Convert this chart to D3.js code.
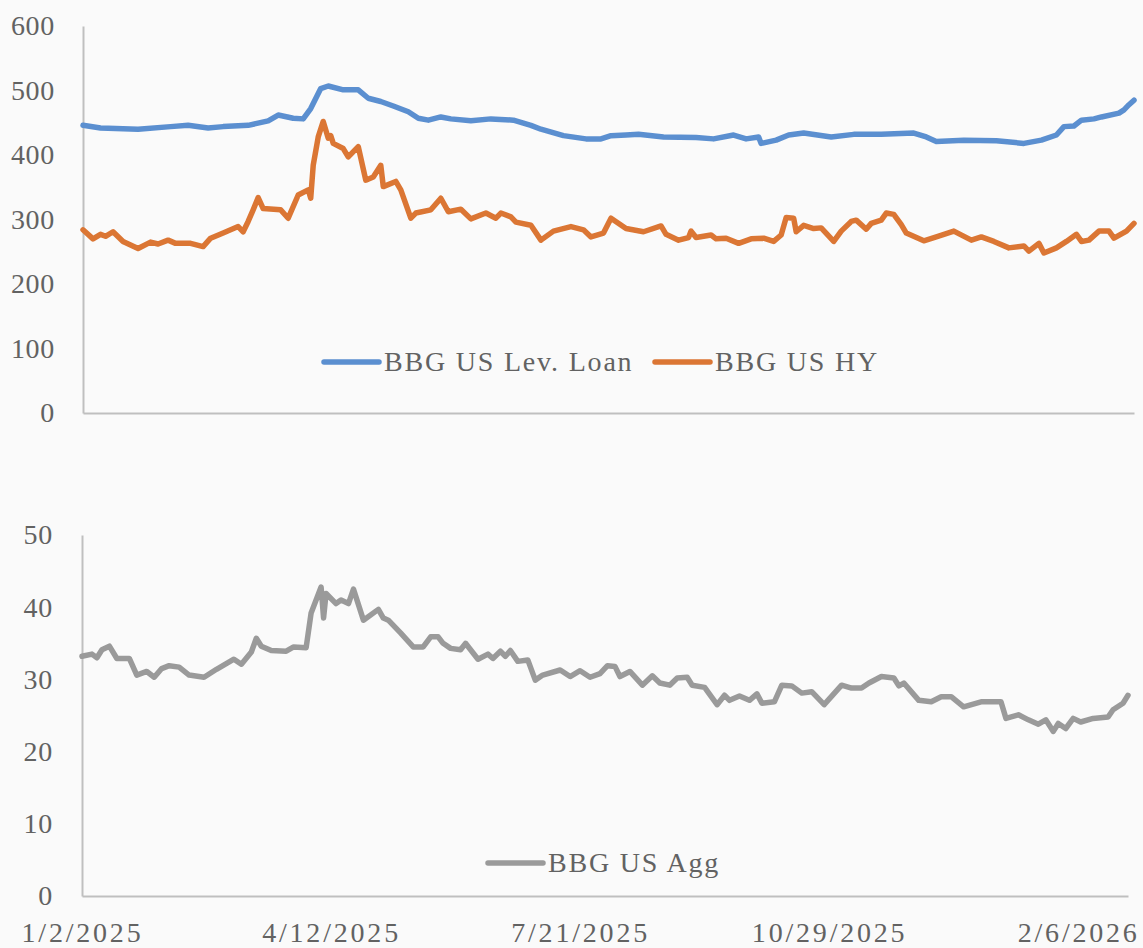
<!DOCTYPE html>
<html>
<head>
<meta charset="utf-8">
<script src="https://cdn.jsdelivr.net/npm/d3@7"></script>
<style>
  body { margin: 0; background: #fafafa; }
  svg text { font-family: "Liberation Serif", "DejaVu Serif", serif; }
</style>
</head>
<body>
<div id="chart"></div>
<script>
// days since 1/2/2025
const loanDays = [0,7,22,35,42,50,56,66,74,78,84,88,91,95,98,104,110,114,119,124,130,134,138,143,147,155,163,172,179,183,192,201,207,211,217,222,232,245,252,260,265,270,271,277,282,288,299,308,319,332,337,341,352,365,376,383,389,392,396,399,404,407,414,416,418,420];
const loanValues = [446,442,440,444,446,442,444,446,453,462,457,456,472,503,507,501,501,488,483,476,467,457,454,459,456,453,456,454,446,440,430,425,425,430,431,432,428,427,425,431,425,428,418,423,431,434,428,432,432,434,428,421,423,422,418,423,431,444,445,454,456,459,465,470,478,485];

const hyDays = [0,4,7,9,12,16,22,27,30,34,37,43,48,51,56,62,64,66,68,70,72,79,82,86,90,91,92,94,96,98,99,100,104,106,110,113,116,119,120,125,127,131,133,139,143,146,151,155,161,165,167,171,173,179,183,188,195,200,203,208,211,217,224,231,233,238,242,243,245,251,253,257,262,267,272,276,279,281,284,285,288,292,295,300,303,307,309,313,315,319,321,324,327,329,336,341,348,355,359,364,370,376,378,382,384,389,393,397,399,402,406,410,412,417,420];
const hyValues = [284,270,277,274,281,266,255,265,262,268,263,263,258,271,279,289,281,297,315,334,317,315,302,338,346,333,384,428,452,426,430,418,410,397,413,361,366,384,351,359,346,302,310,315,333,312,316,301,310,302,310,304,296,291,268,282,289,284,273,279,302,286,281,290,277,268,272,282,272,276,270,271,263,270,271,266,276,303,302,281,291,286,287,266,282,297,299,285,294,299,310,308,292,279,267,273,282,268,273,266,256,259,251,263,248,256,266,277,266,268,282,282,271,282,294];

const aggDays = [0,4,6,8,11,14,19,22,26,29,32,35,39,43,49,54,61,64,68,70,72,76,82,85,90,92,94,96,97,98,102,104,107,109,113,119,121,123,128,133,137,140,143,145,148,152,154,159,163,165,168,170,172,175,179,182,185,192,196,200,204,208,211,214,216,220,225,229,232,236,239,243,245,250,255,258,260,264,268,271,273,278,281,285,289,293,298,305,309,313,316,321,326,328,330,336,341,345,349,354,361,369,371,376,380,384,387,390,392,395,398,401,406,412,414,418,420];
const aggValues = [33.2,33.5,33.0,34.1,34.6,32.9,32.9,30.6,31.1,30.3,31.5,31.9,31.7,30.6,30.3,31.4,32.8,32.1,33.8,35.7,34.6,34.0,33.9,34.5,34.4,39.2,41.0,42.8,38.5,41.9,40.5,41.0,40.5,42.5,38.2,39.7,38.5,38.2,36.4,34.5,34.5,35.9,35.9,35.0,34.3,34.1,35.0,32.8,33.5,32.9,33.9,33.2,34.0,32.5,32.7,29.9,30.6,31.3,30.4,31.2,30.3,30.8,31.9,31.8,30.4,31.1,29.2,30.5,29.5,29.2,30.2,30.3,29.2,28.9,26.5,27.8,27.1,27.7,27.1,28.0,26.7,26.9,29.2,29.1,28.1,28.3,26.5,29.2,28.8,28.8,29.5,30.4,30.2,29.1,29.5,27.1,26.9,27.6,27.6,26.2,26.9,26.9,24.6,25.1,24.4,23.8,24.4,22.8,23.9,23.2,24.6,24.1,24.6,24.8,25.8,26.7,27.8];

const spreadTicks = [0,100,200,300,400,500,600];
const aggTicks = [0,10,20,30,40,50];
const dateTickDays = [0,100,200,300,400];

const COLORS = { loan: '#5b8fd0', hy: '#db7634', agg: '#9a9a9a' };
const TEXT = '#626262', AXIS = '#bfbfbf';

const START = new Date(2025, 0, 2);
const toDate = d => d3.timeDay.offset(START, d);
const xDomain = [toDate(0), toDate(420)];

const svg = d3.select('#chart').append('svg')
  .attr('width', 1143).attr('height', 948);

function styleAxis(spacing) {
  return g => {
    g.select('.domain').attr('stroke', AXIS).attr('stroke-width', 2);
    g.selectAll('text')
      .attr('fill', TEXT)
      .attr('font-size', 28)
      .attr('letter-spacing', spacing);
  };
}

function drawLine(x, y, days, values, color) {
  const line = d3.line()
    .x(d => x(toDate(d)))
    .y((d, i) => y(values[i]));
  svg.append('path')
    .attr('d', line(days))
    .attr('fill', 'none')
    .attr('stroke', color)
    .attr('stroke-width', 5.5)
    .attr('stroke-linejoin', 'round')
    .attr('stroke-linecap', 'round');
}

function legendItem(x1, y, label, color) {
  svg.append('line')
    .attr('x1', x1).attr('x2', x1 + 55)
    .attr('y1', y).attr('y2', y)
    .attr('stroke', color).attr('stroke-width', 5.5)
    .attr('stroke-linecap', 'round');
  svg.append('text')
    .attr('x', x1 + 60).attr('y', y + 9)
    .attr('fill', TEXT).attr('font-size', 28)
    .attr('letter-spacing', 1.8)
    .text(label);
}

// top panel: loan / HY spreads
const xTop = d3.scaleTime().domain(xDomain).range([83, 1134]);
const yTop = d3.scaleLinear().domain([0, 600]).range([413, 26]);

svg.append('g')
  .attr('transform', 'translate(0,413)')
  .call(d3.axisBottom(xTop).tickValues([]).tickSizeOuter(0))
  .call(styleAxis(0));

svg.append('g')
  .attr('transform', 'translate(83,0)')
  .call(d3.axisLeft(yTop).tickValues(spreadTicks).tickSize(0).tickPadding(28))
  .call(styleAxis(0.7));

drawLine(xTop, yTop, loanDays, loanValues, COLORS.loan);
drawLine(xTop, yTop, hyDays, hyValues, COLORS.hy);

legendItem(324, 362, 'BBG US Lev. Loan', COLORS.loan);
legendItem(655, 362, 'BBG US HY', COLORS.hy);

// bottom panel: Agg spread
const xBot = d3.scaleTime().domain(xDomain).range([82, 1128]);
const yBot = d3.scaleLinear().domain([0, 50]).range([896, 535]);

svg.append('g')
  .attr('transform', 'translate(0,896)')
  .call(d3.axisBottom(xBot)
    .tickValues(dateTickDays.map(toDate))
    .tickFormat(d3.timeFormat('%-m/%-d/%Y'))
    .tickSize(0).tickPadding(26))
  .call(styleAxis(2.8));

svg.append('g')
  .attr('transform', 'translate(82,0)')
  .call(d3.axisLeft(yBot).tickValues(aggTicks).tickSize(0).tickPadding(29))
  .call(styleAxis(0.7));

drawLine(xBot, yBot, aggDays, aggValues, COLORS.agg);

legendItem(488, 863, 'BBG US Agg', COLORS.agg);
</script>
</body>
</html>
